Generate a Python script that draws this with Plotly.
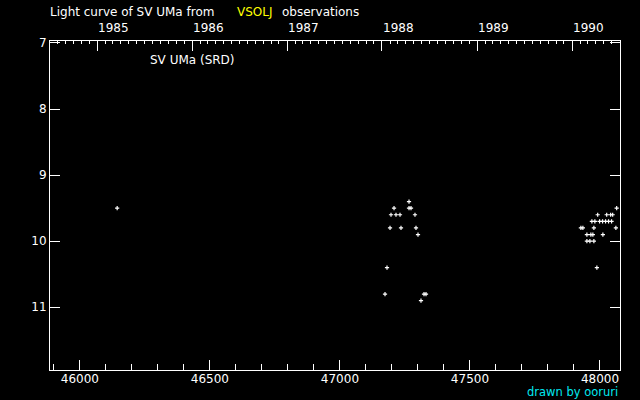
import datetime as dt
import plotly.graph_objects as go

# ---- data (JD - 2400000, visual magnitude) ----
jd_single = [46143.3]
mag_single = [9.5]

jd_1988 = [47265.6, 47208.0, 47265.6, 47273.3, 47196.4, 47215.6, 47231.0, 47288.6,
           47192.6, 47234.8, 47292.5, 47300.2, 47181.0, 47173.3, 47323.3, 47331.0,
           47311.7]
mag_1988 = [9.4, 9.5, 9.5, 9.5, 9.6, 9.6, 9.6, 9.6,
            9.8, 9.8, 9.8, 9.9, 10.4, 10.8, 10.8, 10.8,
            10.9]

jd_1990 = [48064.2, 47991.2, 48025.8, 48041.1, 48048.8,
           47968.9, 47980.4, 47998.5, 48010.0, 48021.5, 48033.0, 48044.6,
           47926.6, 47934.3, 47976.6, 48061.2,
           47949.7, 47965.0, 47972.7, 48011.2,
           47949.7, 47961.2, 47976.6, 47988.1]
mag_1990 = [9.5, 9.6, 9.6, 9.6, 9.6,
            9.7, 9.7, 9.7, 9.7, 9.7, 9.7, 9.7,
            9.8, 9.8, 9.8, 9.8,
            9.9, 9.9, 9.9, 9.9,
            10.0, 10.0, 10.0, 10.4]

jd_ticks = [46000, 46500, 47000, 47500, 48000]
mag_ticks = [7, 8, 9, 10, 11]
years = [1985, 1986, 1987, 1988, 1989, 1990]

X_RANGE = [45885, 48077]
Y_RANGE = [11.95, 6.97]


def jd_of(d):
    # JD - 2400000 = MJD + 0.5
    return (d - dt.date(1858, 11, 17)).days + 0.5


year_jd = [jd_of(dt.date(y, 1, 1)) for y in years]
month_jd = [jd_of(dt.date(y, m, 1)) for y in range(1984, 1991) for m in range(1, 13)]
month_jd = [v for v in month_jd if X_RANGE[0] < v < X_RANGE[1] and v not in year_jd]
minor_bottom = [v for v in range(45900, 48100, 100) if v % 500 != 0]

jd_all = jd_single + jd_1988 + jd_1990
mag_all = mag_single + mag_1988 + mag_1990

FONT = "DejaVu Sans"

fig = go.Figure()
fig.add_trace(go.Scatter(
    x=jd_all, y=mag_all, mode="markers",
    marker=dict(symbol="cross-thin", size=3, color="white",
                line=dict(color="white", width=1.2)),
    showlegend=False, hoverinfo="skip"))
fig.add_trace(go.Scatter(x=[X_RANGE[0]], y=[Y_RANGE[0]], xaxis="x2", mode="markers",
                         marker=dict(opacity=0), showlegend=False, hoverinfo="skip"))

axis_common = dict(showgrid=False, zeroline=False, showline=True, linecolor="white",
                   linewidth=1, ticks="inside", tickcolor="white", tickwidth=1)

fig.update_layout(
    width=640, height=400,
    paper_bgcolor="black", plot_bgcolor="black",
    margin=dict(l=50, r=20, t=41, b=30, autoexpand=False),
    font=dict(family=FONT, size=12, color="white"),
    xaxis=dict(range=X_RANGE, tickvals=jd_ticks, ticklen=10, tickformat="d",
               tickfont=dict(size=12, color="white"), ticklabelstandoff=-2,
               minor=dict(tickvals=minor_bottom, ticklen=6, ticks="inside",
                          tickcolor="white"),
               **axis_common),
    xaxis2=dict(range=X_RANGE, overlaying="x", side="top", anchor="y",
                tickvals=year_jd, ticklen=10, showticklabels=False,
                minor=dict(tickvals=month_jd, ticklen=3, ticks="inside",
                           tickcolor="white"),
                **axis_common),
    yaxis=dict(range=Y_RANGE, tickvals=mag_ticks, ticklen=10, mirror="ticks",
               tickfont=dict(size=12, color="white"), **axis_common),
)

for y, xj in zip(years, year_jd):
    fig.add_annotation(x=xj, xref="x", y=1, yref="paper", yshift=13,
                       text=str(y), showarrow=False, xanchor="left",
                       yanchor="middle", xshift=-1,
                       font=dict(size=12, color="white"))


def px_x(p):
    return (p - 50) / 570.0


fig.add_annotation(x=px_x(48), xref="paper", y=1, yref="paper", yshift=29,
                   text="Light curve of SV UMa from", showarrow=False,
                   xanchor="left", yanchor="middle", font=dict(size=12, color="white"))
fig.add_annotation(x=px_x(235), xref="paper", y=1, yref="paper", yshift=29,
                   text="VSOLJ", showarrow=False,
                   xanchor="left", yanchor="middle", font=dict(size=12, color="#ffff00"))
fig.add_annotation(x=px_x(280), xref="paper", y=1, yref="paper", yshift=29,
                   text="observations", showarrow=False,
                   xanchor="left", yanchor="middle", font=dict(size=12, color="white"))
fig.add_annotation(x=px_x(148), xref="paper", y=1, yref="paper", yshift=-19,
                   text="SV UMa (SRD)", showarrow=False,
                   xanchor="left", yanchor="middle", font=dict(size=12, color="white"))
fig.add_annotation(x=px_x(619), xref="paper", y=0, yref="paper", yshift=-30,
                   text="drawn by ooruri", showarrow=False, borderpad=0,
                   xanchor="right", yanchor="bottom", font=dict(size=11.5, color="#00e8f0"))

fig.write_html("out.html", config={"displayModeBar": False},
               post_script="document.body.style.margin='0';")
